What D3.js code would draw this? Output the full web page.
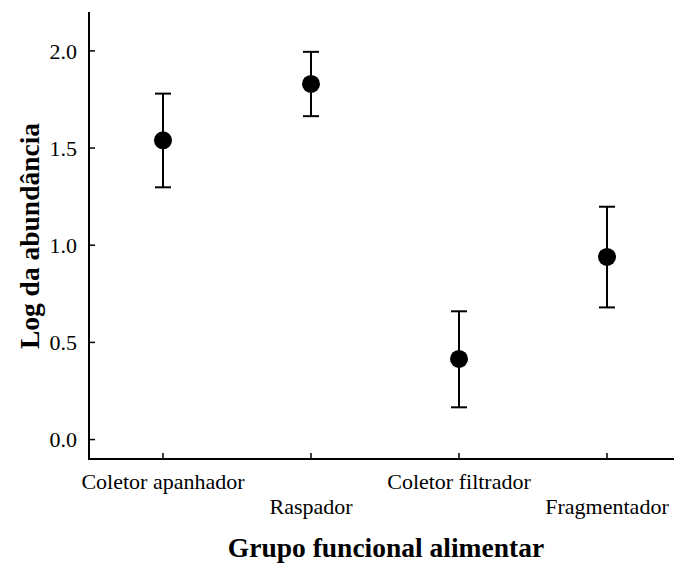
<!DOCTYPE html>
<html>
<head>
<meta charset="utf-8">
<script src="https://cdn.jsdelivr.net/npm/d3@7"></script>
<style>
  html, body { margin: 0; padding: 0; background: #fff; }
  svg { display: block; }
  text { font-family: "Liberation Serif", "Times New Roman", serif; fill: #000; }
</style>
</head>
<body>
<script>
const categories = ["Coletor apanhador", "Raspador", "Coletor filtrador", "Fragmentador"];
const means = [1.54, 1.83, 0.415, 0.94];
const upper = [1.78, 1.995, 0.66, 1.198];
const lower = [1.298, 1.664, 0.166, 0.68];
const yTicks = [0.0, 0.5, 1.0, 1.5, 2.0];

(function () {
const W = 674, H = 563;
const svg = d3.select("body").append("svg").attr("width", W).attr("height", H);

const mLeft = 89, mTop = 12, mBottom = 459, mRight = 681;
const x = d3.scaleBand().domain(categories).range([mLeft, mRight]).padding(0);
const y = d3.scaleLinear().domain([-0.1, 2.2]).range([mBottom, mTop]);

// axes lines
svg.append("line").attr("x1", mLeft).attr("x2", mLeft).attr("y1", mTop).attr("y2", mBottom)
  .attr("stroke", "#000").attr("stroke-width", 2);
svg.append("line").attr("x1", mLeft - 1).attr("x2", W).attr("y1", mBottom).attr("y2", mBottom)
  .attr("stroke", "#000").attr("stroke-width", 2);

// y ticks
const yt = svg.append("g");
yt.selectAll("line").data(yTicks).join("line")
  .attr("x1", mLeft).attr("x2", mLeft + 6)
  .attr("y1", d => y(d)).attr("y2", d => y(d))
  .attr("stroke", "#000").attr("stroke-width", 1.5);
yt.selectAll("text").data(yTicks).join("text")
  .attr("x", mLeft - 12).attr("y", d => y(d)).attr("dy", "0.35em")
  .attr("text-anchor", "end").attr("font-size", 22)
  .text(d => d.toFixed(1));

// x ticks
const cx = d => x(d) + x.bandwidth() / 2;
const xt = svg.append("g");
xt.selectAll("line").data(categories).join("line")
  .attr("x1", cx).attr("x2", cx).attr("y1", mBottom).attr("y2", mBottom - 6)
  .attr("stroke", "#000").attr("stroke-width", 1.5);
xt.selectAll("text").data(categories).join("text")
  .attr("x", cx).attr("y", (d, i) => i % 2 === 0 ? 489 : 514)
  .attr("text-anchor", "middle").attr("font-size", 22)
  .text(d => d);

// error bars
const data = categories.map((c, i) => ({c, m: means[i], u: upper[i], l: lower[i]}));
const g = svg.append("g");
g.selectAll("line.v").data(data).join("line").attr("class", "v")
  .attr("x1", d => cx(d.c)).attr("x2", d => cx(d.c))
  .attr("y1", d => y(d.u)).attr("y2", d => y(d.l))
  .attr("stroke", "#000").attr("stroke-width", 2);
g.selectAll("line.cu").data(data).join("line").attr("class", "cu")
  .attr("x1", d => cx(d.c) - 8).attr("x2", d => cx(d.c) + 8)
  .attr("y1", d => y(d.u)).attr("y2", d => y(d.u))
  .attr("stroke", "#000").attr("stroke-width", 2);
g.selectAll("line.cl").data(data).join("line").attr("class", "cl")
  .attr("x1", d => cx(d.c) - 8).attr("x2", d => cx(d.c) + 8)
  .attr("y1", d => y(d.l)).attr("y2", d => y(d.l))
  .attr("stroke", "#000").attr("stroke-width", 2);
g.selectAll("circle").data(data).join("circle")
  .attr("cx", d => cx(d.c)).attr("cy", d => y(d.m)).attr("r", 9)
  .attr("fill", "#000");

// titles
svg.append("text").attr("x", 386).attr("y", 557)
  .attr("text-anchor", "middle").attr("font-size", 27.5).attr("font-weight", "bold")
  .text("Grupo funcional alimentar");
svg.append("text")
  .attr("transform", "translate(39,236) rotate(-90)")
  .attr("text-anchor", "middle").attr("font-size", 27.5).attr("font-weight", "bold")
  .text("Log da abundância");
})();
</script>
</body>
</html>
